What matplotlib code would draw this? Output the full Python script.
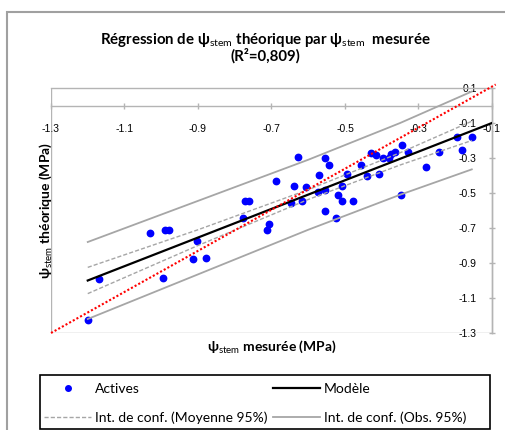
import matplotlib.pyplot as plt
from matplotlib.patches import Rectangle
from matplotlib.lines import Line2D

plt.rcParams['font.family'] = ['Lato', 'DejaVu Sans']
plt.rcParams['mathtext.fontset'] = 'custom'
plt.rcParams['mathtext.rm'] = 'Lato'
plt.rcParams['mathtext.it'] = 'Lato:italic'
plt.rcParams['mathtext.bf'] = 'Lato:bold'
plt.rcParams['axes.unicode_minus'] = False

# Observations (psi stem mesuree vs theorique, MPa)
psi_mesure = [-1.198, -1.170, -1.031, -0.990, -0.980, -0.994, -0.913, -0.879,
              -0.904, -0.772, -0.762, -0.777, -0.707, -0.712, -0.687, -0.648,
              -0.639, -0.629, -0.617, -0.605, -0.574, -0.570, -0.554, -0.544,
              -0.554, -0.554, -0.524, -0.520, -0.509, -0.507, -0.494, -0.477,
              -0.456, -0.439, -0.430, -0.415, -0.407, -0.397, -0.380, -0.376,
              -0.363, -0.344, -0.329, -0.348, -0.280, -0.245, -0.196, -0.182,
              -0.154]
psi_theo = [-1.226, -0.993, -0.730, -0.711, -0.711, -0.985, -0.879, -0.870,
            -0.776, -0.544, -0.544, -0.641, -0.677, -0.713, -0.431, -0.555,
            -0.458, -0.296, -0.544, -0.464, -0.492, -0.399, -0.302, -0.342,
            -0.483, -0.603, -0.645, -0.511, -0.544, -0.458, -0.391, -0.544,
            -0.340, -0.403, -0.270, -0.280, -0.391, -0.298, -0.298, -0.277,
            -0.264, -0.226, -0.268, -0.510, -0.350, -0.268, -0.178, -0.252,
            -0.178]

# Modele
model_x = [-1.2, -0.1]
model_y = [-1.0, -0.1]

# Intervalles de confiance
ci_x = [-1.2, -0.9, -0.6, -0.35, -0.155]
mean_hi = [-0.925, -0.710, -0.481, -0.270, -0.090]
mean_lo = [-1.075, -0.800, -0.537, -0.340, -0.200]
obs_hi = [-0.780, -0.545, -0.310, -0.100, 0.080]
obs_lo = [-1.220, -0.965, -0.710, -0.510, -0.365]

# Droite rouge pointillee
ref_x = [-1.3, -0.09]
ref_y = [-1.3, 0.12]

x_ticks = [-1.3, -1.1, -0.9, -0.7, -0.5, -0.3, -0.1]
y_ticks = [-1.3, -1.1, -0.9, -0.7, -0.5, -0.3, -0.1, 0.1]

gray = '#a6a6a6'
border = '#b4b4b4'

fig = plt.figure(figsize=(5.06, 4.30), dpi=100)
fig.add_artist(Rectangle((7 / 506, -0.1), 1.0, 1.1 - 12 / 430,
                         transform=fig.transFigure, fill=False,
                         edgecolor='#a0a0a0', linewidth=1.5))

ax = fig.add_axes([51 / 506, 97 / 430, 441 / 506, 245 / 430])

ax.plot(psi_mesure, psi_theo, 'o', color='#0000ff', markersize=4.6,
        linestyle='none', zorder=2)
ax.plot(ci_x, mean_hi, color=gray, lw=1.0, ls=(0, (3, 1.5)), zorder=3)
ax.plot(ci_x, mean_lo, color=gray, lw=1.0, ls=(0, (3, 1.5)), zorder=3)
ax.plot(ci_x, obs_hi, color=gray, lw=1.3, zorder=3)
ax.plot(ci_x, obs_lo, color=gray, lw=1.3, zorder=3)
ax.plot(model_x, model_y, color='black', lw=1.6, zorder=4)
ax.plot(ref_x, ref_y, color='#ff0000', lw=1.5, ls=(0, (1, 1)),
        zorder=5, clip_on=False)

ax.set_xlim(-1.3, -0.1)
ax.set_ylim(-1.3, 0.1)

# axes crossing inside the plot area
ax.spines['bottom'].set_position(('data', 0))
ax.spines['left'].set_position(('data', -0.1))
for s in ax.spines.values():
    s.set_color(border)
    s.set_linewidth(1.0)
ax.axhline(-1.3, color=border, lw=1.0, zorder=1)
ax.axvline(-1.3, color=border, lw=1.0, zorder=1)

ax.set_xticks(x_ticks)
ax.set_xticklabels(['%.1f' % v for v in x_ticks])
ax.set_yticks(y_ticks)
ax.set_yticklabels(['%.1f' % v for v in y_ticks])
ax.tick_params(axis='x', direction='inout', length=5, width=1,
               color=border, pad=10.5, labelsize=7.5,
               labelfontfamily='Liberation Sans')
ax.tick_params(axis='y', direction='inout', length=5, width=1,
               color=border, pad=8.5, labelsize=7.5,
               labelfontfamily='Liberation Sans')

ax.set_xlabel(r'ψ$_{\mathrm{stem}}$ mesurée (MPa)', fontsize=10,
              fontweight='bold')
ax.xaxis.set_label_coords(0.5, -0.022)
ax.set_ylabel(r'ψ$_{\mathrm{stem}}$ théorique (MPa)', fontsize=10,
              fontweight='bold')
ax.yaxis.set_label_coords(0.006, 0.5)

fig.text(265 / 506, 1 - 40 / 430,
         r'Régression de ψ$_{\mathrm{stem}}$ théorique par ψ$_{\mathrm{stem}}$  mesurée',
         ha='center', va='center', fontsize=10.8, fontweight='bold')
fig.text(265 / 506, 1 - 56 / 430, '(R²=0,809)', ha='center', va='center',
         fontsize=10.8, fontweight='bold')

handles = [
    Line2D([], [], marker='o', color='#0000ff', markersize=4, linestyle='none'),
    Line2D([], [], color=gray, lw=1.0, ls=(0, (3, 1.5))),
    Line2D([], [], color='black', lw=1.6),
    Line2D([], [], color=gray, lw=1.3),
]
labels = ['Actives', 'Int. de conf. (Moyenne 95%)', 'Modèle',
          'Int. de conf. (Obs. 95%)']
fig.add_artist(Rectangle((40 / 506, 1 / 430), 450 / 506, 54 / 430,
                         transform=fig.transFigure, fill=False,
                         edgecolor='black', linewidth=1.2))
leg = fig.legend(handles, labels, ncol=2, loc='upper left',
                 bbox_to_anchor=(44 / 506, 1 - 383 / 430),
                 frameon=False, borderaxespad=0, borderpad=0,
                 fontsize=10, handlelength=3.4, handletextpad=0.3,
                 columnspacing=0.35, labelspacing=1.2)

fig.savefig('out.png', dpi=100)
